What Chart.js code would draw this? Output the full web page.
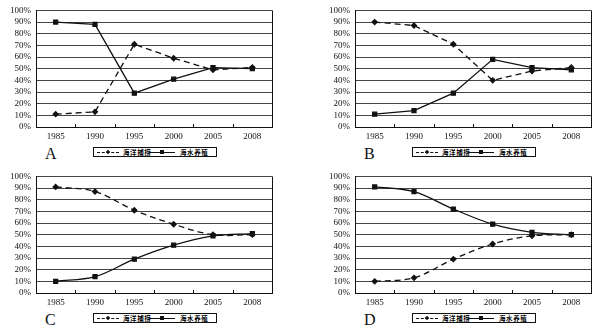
<!DOCTYPE html>
<html>
<head>
<meta charset="utf-8">
<script src="https://cdn.jsdelivr.net/npm/chart.js@4"></script>
<style>
  html, body { margin:0; padding:0; background:#fff; }
  body { width:599px; height:332px; position:relative; overflow:hidden; }
  .panel { position:absolute; width:290px; height:166px; }
  .panel canvas { position:absolute; left:0; top:0; }
  .letter { position:absolute; left:45px; top:146px; font-family:"Liberation Serif", serif; font-size:16px; line-height:16px; color:#111; }
  .legend { position:absolute; left:93px; top:147px; width:122px; height:8px; border:1px solid #111; background:#fff; }
  .legend .s { position:absolute; top:4px; height:0; }
  .legend .dash { left:3px; width:22px; border-top:1px dashed #111; }
  .legend .solid { left:55px; width:26px; border-top:1px solid #111; }
  .legend .s i { position:absolute; left:50%; top:-3px; width:4px; height:4px; margin-left:-2px; background:#111; }
  .legend .dash i { transform:rotate(45deg) scale(0.8); }
  .legend .t { position:absolute; top:0px; font-family:"Noto Sans CJK SC", sans-serif; font-size:6.5px; line-height:8px; letter-spacing:0.6px; color:#000; font-weight:bold; }
</style>
</head>
<body>
<script>
const years = ['1985', '1990', '1995', '2000', '2005', '2008'];
const seriesNames = ['海洋捕捞', '海水养殖'];
const panelLetters = ['A', 'B', 'C', 'D'];

// 海洋捕捞 (dashed) per panel
const fishingA = [11, 13, 71, 59, 49, 51];
const fishingB = [90, 87, 71, 40, 48, 51];
const fishingC = [91, 87, 71, 59, 50, 50];
const fishingD = [10, 13, 29, 42, 49, 50];

// 海水养殖 (solid) per panel
const cultureA = [90, 88, 29, 41, 51, 50];
const cultureB = [11, 14, 29, 58, 51, 49];
const cultureC = [10, 14, 29, 41, 49, 51];
const cultureD = [91, 87, 72, 59, 52, 50];

const yMin = 0, yMax = 100, yStep = 10;

const panels = [
  { letter: panelLetters[0], fishing: fishingA, culture: cultureA, left: 0,   top: 0,   tension: 0 },
  { letter: panelLetters[1], fishing: fishingB, culture: cultureB, left: 319, top: 0,   tension: 0 },
  { letter: panelLetters[2], fishing: fishingC, culture: cultureC, left: 0,   top: 166, tension: 0.35 },
  { letter: panelLetters[3], fishing: fishingD, culture: cultureD, left: 319, top: 166, tension: 0.35 }
];

const framePlugin = {
  id: 'frame',
  afterDraw(chart) {
    const ctx = chart.ctx, a = chart.chartArea, xs = chart.scales.x;
    ctx.save();
    ctx.strokeStyle = '#111';
    ctx.lineWidth = 1;
    ctx.beginPath();
    ctx.moveTo(Math.round(a.right) + 0.5, a.top);
    ctx.lineTo(Math.round(a.right) + 0.5, a.bottom);
    for (let i = 0; i < years.length - 1; i++) {
      const x = Math.round((xs.getPixelForValue(i) + xs.getPixelForValue(i + 1)) / 2) + 0.5;
      ctx.moveTo(x, a.bottom);
      ctx.lineTo(x, a.bottom - 3);
    }
    ctx.stroke();
    ctx.restore();
  }
};

const tickFont = { family: '"Liberation Serif", serif', size: 9 };

panels.forEach(p => {
  const div = document.createElement('div');
  div.className = 'panel';
  div.style.left = p.left + 'px';
  div.style.top = p.top + 'px';
  div.innerHTML =
    '<canvas width="290" height="145" style="width:290px;height:145px"></canvas>' +
    '<div class="letter">' + p.letter + '</div>' +
    '<div class="legend">' +
      '<span class="s dash"><i></i></span><span class="t" style="left:29px">' + seriesNames[0] + '</span>' +
      '<span class="s solid"><i></i></span><span class="t" style="left:86px">' + seriesNames[1] + '</span>' +
    '</div>';
  document.body.appendChild(div);
  const canvas = div.querySelector('canvas');

  new Chart(canvas, {
    type: 'line',
    data: {
      labels: years,
      datasets: [
        {
          label: seriesNames[0],
          data: p.fishing,
          borderColor: '#111',
          backgroundColor: '#111',
          borderWidth: 1.3,
          borderDash: [6, 4],
          pointStyle: 'rectRot',
          pointRadius: 2.5,
          tension: p.tension,
          fill: false
        },
        {
          label: seriesNames[1],
          data: p.culture,
          borderColor: '#111',
          backgroundColor: '#111',
          borderWidth: 1.3,
          pointStyle: 'rect',
          pointRadius: 2.8,
          tension: p.tension,
          fill: false
        }
      ]
    },
    options: {
      responsive: false,
      animation: false,
      devicePixelRatio: 1,
      layout: { padding: { left: 0, right: 18, top: 7, bottom: 0 } },
      plugins: { legend: { display: false }, tooltip: { enabled: false } },
      scales: {
        x: {
          offset: true,
          grid: { display: true, drawOnChartArea: false, drawTicks: false },
          border: { display: true, color: '#111', width: 1 },
          ticks: { padding: 4, font: tickFont, color: '#111', maxRotation: 0, autoSkip: false },
          afterFit(s) { s.height = 18; }
        },
        y: {
          min: yMin,
          max: yMax,
          ticks: { stepSize: yStep, autoSkip: false, callback: v => v + '%', padding: 5, font: tickFont, color: '#111' },
          grid: { color: '#444', lineWidth: 1, drawTicks: false },
          border: { display: true, color: '#111', width: 1 },
          afterFit(s) { s.width = 36; }
        }
      }
    },
    plugins: [framePlugin]
  });
});
</script>
</body>
</html>
